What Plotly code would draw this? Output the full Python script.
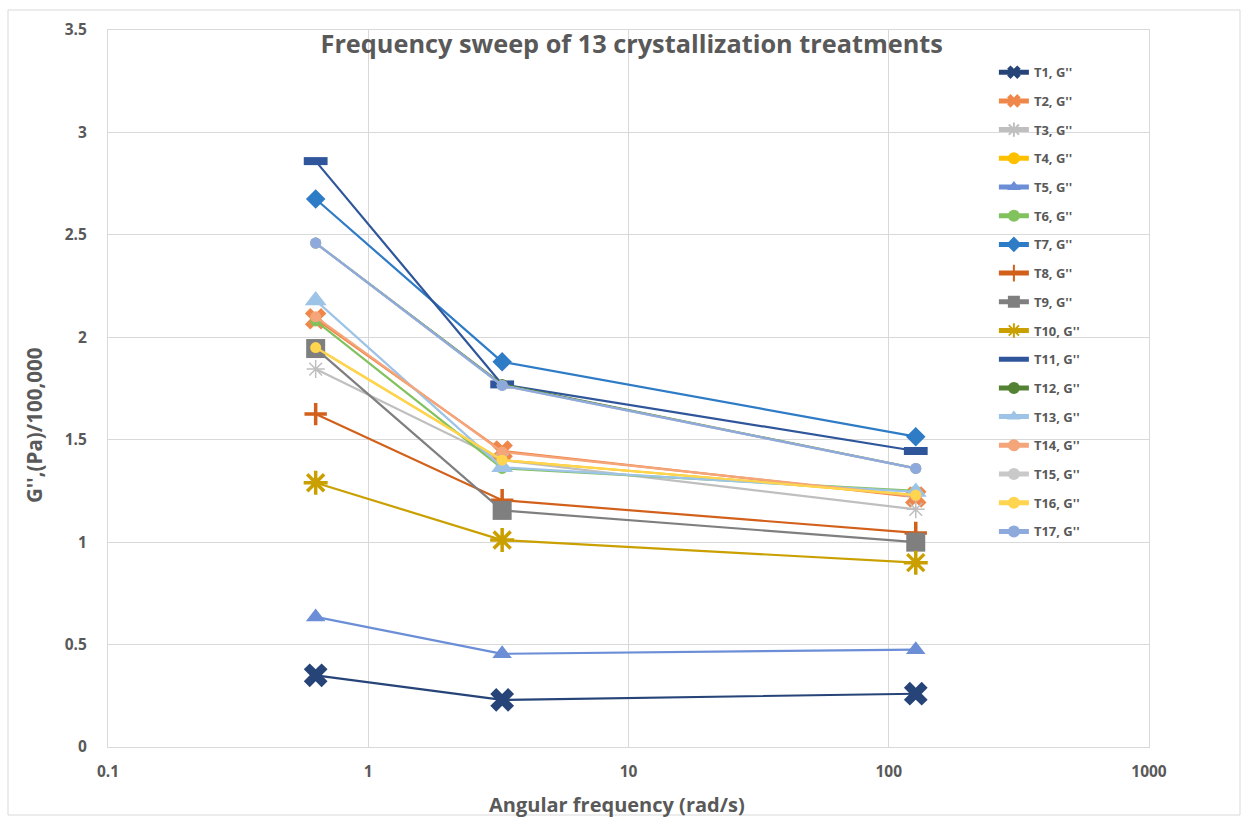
import plotly.graph_objects as go

freq = [0.628, 3.27, 127]

names = ["T1, G''", "T2, G''", "T3, G''", "T4, G''", "T5, G''", "T6, G''", "T7, G''",
         "T8, G''", "T9, G''", "T10, G''", "T11, G''", "T12, G''", "T13, G''",
         "T14, G''", "T15, G''", "T16, G''", "T17, G''"]

T1 = [0.35, 0.23, 0.26]
T2 = [2.09, 1.445, 1.22]
T3 = [1.845, 1.40, 1.16]
T4 = [1.95, 1.40, 1.23]
T5 = [0.635, 0.455, 0.475]
T6 = [2.08, 1.36, 1.25]
T7 = [2.675, 1.88, 1.515]
T8 = [1.625, 1.205, 1.045]
T9 = [1.945, 1.155, 1.0]
T10 = [1.29, 1.01, 0.90]
T11 = [2.86, 1.77, 1.445]
T12 = [2.46, 1.77, 1.36]
T13 = [2.18, 1.365, 1.245]
T14 = [2.10, 1.44, 1.225]
T15 = [2.46, 1.765, 1.36]
T16 = [1.95, 1.40, 1.23]
T17 = [2.46, 1.765, 1.36]
series = [T1, T2, T3, T4, T5, T6, T7, T8, T9, T10, T11, T12, T13, T14, T15, T16, T17]

colors = ["#264478", "#F0874A", "#BFBFBF", "#FFC000", "#6B8ED6", "#82C25E", "#2E7BC6",
          "#D2601A", "#7F7F7F", "#C9A000", "#2F559A", "#548235", "#9DC3E6",
          "#F4A57A", "#C9C9C9", "#FFD54F", "#8EA9DB"]

# (symbol, size, line width)
markers = [("x", 21, 0), ("x", 19, 0), ("asterisk-open", 15, 1.5), ("circle", 11, 0),
           ("triangle-up", 17, 0), ("circle", 11, 0), ("diamond", 15, 0),
           ("cross-thin-open", 16, 3.5), ("square", 19, 0), ("asterisk-open", 20, 3.5),
           ("line-ew-open", 17, 8), ("circle", 11, 0), ("triangle-up", 19, 0),
           ("circle", 11, 0), ("circle", 11, 0), ("circle", 11, 0), ("circle", 11, 0)]

fig = go.Figure()
for i, (nm, ys) in enumerate(zip(names, series)):
    sym, sz, lw = markers[i]
    mk = dict(symbol=sym, size=sz, color=colors[i])
    if lw:
        mk["line"] = dict(color=colors[i], width=lw)
    else:
        mk["line"] = dict(width=0)
    fig.add_trace(go.Scatter(
        x=freq, y=ys, name=nm, mode="lines+markers",
        line=dict(color=colors[i], width=2.2), marker=mk,
        legendgroup=nm,
    ))

font_main = "'Open Sans', Lato, sans-serif"
gray = "#595959"
grid = "#D9D9D9"

fig.update_layout(
    width=1246, height=818,
    margin=dict(l=108, r=97, t=30, b=71),
    paper_bgcolor="white", plot_bgcolor="white",
    font=dict(family=font_main, color=gray),
    title=dict(text="Frequency sweep of 13 crystallization treatments",
               x=0.507, xanchor="center", y=1 - 44 / 818, yanchor="middle",
               font=dict(size=25.3, color=gray, family=font_main, weight="bold")),
    showlegend=True,
    legend=dict(x=0.851, y=0.962, xanchor="left", yanchor="top",
                bgcolor="rgba(0,0,0,0)", font=dict(size=13, color=gray, weight="bold"),
                traceorder="grouped", tracegroupgap=8.8, itemwidth=30,
                itemsizing="constant"),
    xaxis=dict(type="log", range=[-1, 3],
               tickvals=[0.1, 1, 10, 100, 1000], ticktext=["0.1", "1", "10", "100", "1000"],
               showgrid=True, gridcolor=grid, gridwidth=1,
               showline=True, linecolor=grid, mirror=True, zeroline=False,
               ticks="", ticklabelstandoff=10,
               tickfont=dict(size=15.5, color=gray, weight="bold")),
    yaxis=dict(range=[0, 3.5], dtick=0.5, tick0=0,
               showgrid=True, gridcolor=grid, gridwidth=1,
               showline=True, linecolor=grid, mirror=True, zeroline=False,
               ticks="", ticklabelstandoff=17,
               tickfont=dict(size=15.5, color=gray, weight="bold")),
    annotations=[
        dict(text="Angular frequency (rad/s)", xref="paper", yref="paper",
             x=(617 - 108) / 1041, y=-(804 - 747) / 717, xanchor="center", yanchor="middle",
             showarrow=False, font=dict(size=20, color=gray, weight="bold")),
        dict(text="G'',(Pa)/100,000", xref="paper", yref="paper",
             x=-(108 - 34) / 1041, y=(747 - 426) / 717, xanchor="center", yanchor="middle",
             textangle=-90, showarrow=False, font=dict(size=20.5, color=gray, weight="bold")),
    ],
    shapes=[dict(type="rect", xref="paper", yref="paper",
                 x0=-(108 - 8) / 1041, x1=(1240 - 108) / 1041,
                 y0=-(815 - 747) / 717, y1=(747 - 10) / 717,
                 line=dict(color=grid, width=1), fillcolor="rgba(0,0,0,0)", layer="below")],
)

fig.write_html("out.html")
